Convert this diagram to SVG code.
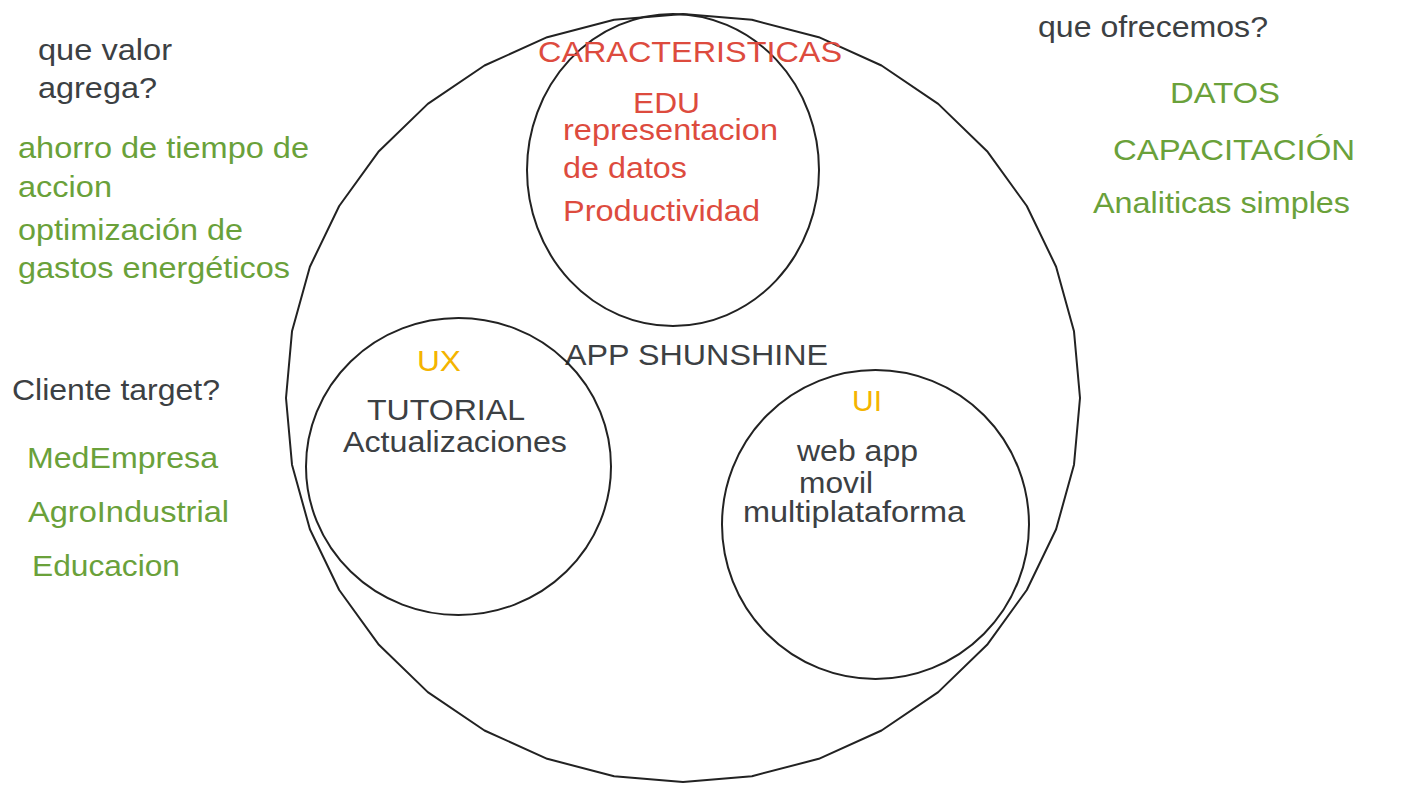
<svg xmlns="http://www.w3.org/2000/svg" width="1422" height="800" viewBox="0 0 1422 800">
<style>
.shape{fill:none;stroke:#222;stroke-width:2;stroke-linejoin:round}
text{font-family:"Liberation Sans",Arial,sans-serif;font-size:30px}
.dark{fill:#3c4043}
.green{fill:#6aa13a}
.red{fill:#dd4b3e}
.yellow{fill:#f4b400}
</style>
<rect width="1422" height="800" fill="#fff"/>
<g id="connectors"/>
<g id="app-shunshine">
<polygon class="shape" points="1080,398 1074,464.7 1056.1,529.3 1026.8,590 987.1,644.8 938.2,692.1 881.5,730.5 818.8,758.8 751.9,776.2 683,782 614.1,776.2 547.2,758.8 484.5,730.5 427.8,692.1 378.9,644.8 339.2,590 309.9,529.3 292,464.7 286,398 292,331.3 309.9,266.7 339.2,206 378.9,151.2 427.8,103.9 484.5,65.5 547.2,37.2 614.1,19.8 683,14 751.9,19.8 818.8,37.2 881.5,65.5 938.2,103.9 987.1,151.2 1026.8,206 1056.1,266.7 1074,331.3"/>
<text class="dark" x="565" y="365" textLength="263" lengthAdjust="spacingAndGlyphs">APP SHUNSHINE</text>
</g>
<g id="edu">
<ellipse class="shape" cx="673" cy="170" rx="146" ry="156"/>
<text class="red" x="538" y="62" textLength="304" lengthAdjust="spacingAndGlyphs">CARACTERISTICAS</text>
<text class="red" x="633" y="113" textLength="67" lengthAdjust="spacingAndGlyphs">EDU</text>
<text class="red" x="563" y="140" textLength="215" lengthAdjust="spacingAndGlyphs">representacion</text>
<text class="red" x="563" y="178" textLength="124" lengthAdjust="spacingAndGlyphs">de datos</text>
<text class="red" x="563" y="221" textLength="197" lengthAdjust="spacingAndGlyphs">Productividad</text>
</g>
<g id="ux">
<ellipse class="shape" cx="458.5" cy="466.5" rx="152.5" ry="148.5"/>
<text class="yellow" x="417" y="371" textLength="44" lengthAdjust="spacingAndGlyphs">UX</text>
<text class="dark" x="367" y="420" textLength="158" lengthAdjust="spacingAndGlyphs">TUTORIAL</text>
<text class="dark" x="343" y="452" textLength="224" lengthAdjust="spacingAndGlyphs">Actualizaciones</text>
</g>
<g id="ui">
<ellipse class="shape" cx="875.5" cy="524.5" rx="153.5" ry="154.5"/>
<text class="yellow" x="852" y="411" textLength="30" lengthAdjust="spacingAndGlyphs">UI</text>
<text class="dark" x="797" y="461" textLength="121" lengthAdjust="spacingAndGlyphs">web app</text>
<text class="dark" x="799" y="493" textLength="74" lengthAdjust="spacingAndGlyphs">movil</text>
<text class="dark" x="743" y="522" textLength="222" lengthAdjust="spacingAndGlyphs">multiplataforma</text>
</g>
<g id="valor">
<text class="dark" x="38" y="60" textLength="134" lengthAdjust="spacingAndGlyphs">que valor</text>
<text class="dark" x="38" y="98" textLength="119" lengthAdjust="spacingAndGlyphs">agrega?</text>
<text class="green" x="18" y="158" textLength="291" lengthAdjust="spacingAndGlyphs">ahorro de tiempo de</text>
<text class="green" x="18" y="197" textLength="94" lengthAdjust="spacingAndGlyphs">accion</text>
<text class="green" x="18" y="240" textLength="225" lengthAdjust="spacingAndGlyphs">optimización de</text>
<text class="green" x="18" y="278" textLength="272" lengthAdjust="spacingAndGlyphs">gastos energéticos</text>
</g>
<g id="cliente">
<text class="dark" x="12" y="400" textLength="208" lengthAdjust="spacingAndGlyphs">Cliente target?</text>
<text class="green" x="27" y="468" textLength="191" lengthAdjust="spacingAndGlyphs">MedEmpresa</text>
<text class="green" x="28" y="522" textLength="201" lengthAdjust="spacingAndGlyphs">AgroIndustrial</text>
<text class="green" x="32" y="576" textLength="148" lengthAdjust="spacingAndGlyphs">Educacion</text>
</g>
<g id="ofrecemos">
<text class="dark" x="1038" y="37" textLength="230" lengthAdjust="spacingAndGlyphs">que ofrecemos?</text>
<text class="green" x="1170" y="103" textLength="110" lengthAdjust="spacingAndGlyphs">DATOS</text>
<text class="green" x="1113" y="160" textLength="242" lengthAdjust="spacingAndGlyphs">CAPACITACIÓN</text>
<text class="green" x="1093" y="213" textLength="257" lengthAdjust="spacingAndGlyphs">Analiticas simples</text>
</g>
</svg>
